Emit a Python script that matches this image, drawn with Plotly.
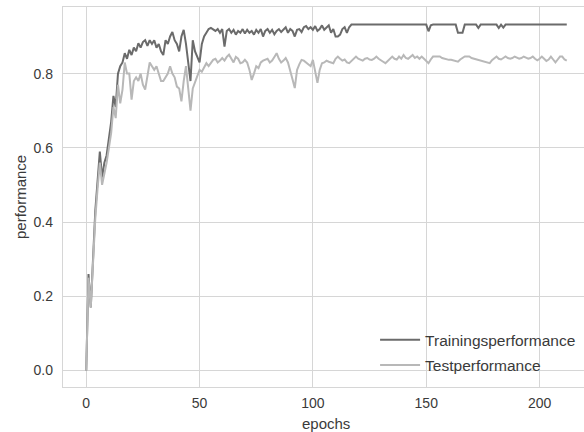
import plotly.graph_objects as go

epochs = list(range(213))

training = [
    0.0, 0.26, 0.17, 0.31, 0.43, 0.51, 0.59, 0.52, 0.56, 0.58,
    0.62, 0.67, 0.74, 0.71, 0.80, 0.82, 0.83, 0.855, 0.84, 0.864,
    0.85, 0.87, 0.86, 0.882, 0.87, 0.885, 0.89, 0.875, 0.89, 0.88,
    0.89, 0.87, 0.88, 0.86, 0.85, 0.89, 0.88, 0.90, 0.912, 0.89,
    0.88, 0.86, 0.90, 0.918, 0.88, 0.83, 0.78, 0.89, 0.86, 0.845,
    0.83, 0.88, 0.90, 0.91, 0.92, 0.923, 0.92, 0.915, 0.92, 0.91,
    0.92, 0.873, 0.915, 0.92, 0.91, 0.918, 0.905, 0.915, 0.91, 0.92,
    0.908, 0.918, 0.91, 0.915, 0.905, 0.918, 0.91, 0.92, 0.90, 0.915,
    0.92, 0.91, 0.918, 0.906, 0.915, 0.92, 0.912, 0.918, 0.925, 0.91,
    0.92, 0.915, 0.90, 0.918, 0.92, 0.912, 0.925, 0.928, 0.92, 0.925,
    0.918, 0.928, 0.915, 0.92, 0.93, 0.918, 0.925, 0.93, 0.91, 0.92,
    0.90, 0.90, 0.905, 0.92, 0.925, 0.91, 0.925, 0.932, 0.932, 0.932,
    0.932, 0.932, 0.932, 0.932, 0.932, 0.932, 0.932, 0.932, 0.932, 0.932,
    0.932, 0.932, 0.932, 0.932, 0.932, 0.932, 0.932, 0.932, 0.932, 0.932,
    0.932, 0.932, 0.932, 0.932, 0.932, 0.932, 0.932, 0.932, 0.932, 0.932,
    0.932, 0.914, 0.930, 0.932, 0.932, 0.932, 0.932, 0.932, 0.932, 0.932,
    0.932, 0.932, 0.932, 0.932, 0.910, 0.909, 0.910, 0.932, 0.932, 0.932,
    0.932, 0.932, 0.932, 0.923, 0.932, 0.932, 0.932, 0.932, 0.932, 0.932,
    0.932, 0.932, 0.923, 0.932, 0.924, 0.932, 0.932, 0.932, 0.932, 0.932,
    0.932, 0.932, 0.932, 0.932, 0.932, 0.932, 0.932, 0.932, 0.932, 0.932,
    0.932, 0.932, 0.932, 0.932, 0.932, 0.932, 0.932, 0.932, 0.932, 0.932,
    0.932, 0.932, 0.932,
]

test = [
    0.0, 0.25, 0.17, 0.29, 0.41, 0.49, 0.56, 0.50, 0.53, 0.56,
    0.60, 0.64, 0.71, 0.68, 0.77, 0.72, 0.757, 0.83, 0.80, 0.80,
    0.73, 0.78, 0.79, 0.78, 0.80, 0.77, 0.757, 0.80, 0.83, 0.82,
    0.81, 0.82, 0.80, 0.78, 0.78, 0.79, 0.80, 0.82, 0.80, 0.79,
    0.765, 0.76, 0.725, 0.78, 0.82, 0.76, 0.70, 0.76, 0.775, 0.79,
    0.81, 0.805, 0.815, 0.828, 0.82, 0.83, 0.837, 0.84, 0.83, 0.835,
    0.842, 0.835, 0.845, 0.851, 0.84, 0.83, 0.845, 0.84, 0.828, 0.83,
    0.837, 0.83, 0.81, 0.783, 0.80, 0.82, 0.815, 0.83, 0.835, 0.837,
    0.84, 0.83, 0.835, 0.845, 0.855, 0.84, 0.83, 0.835, 0.842, 0.83,
    0.81, 0.785, 0.761, 0.81, 0.825, 0.837, 0.835, 0.83, 0.825, 0.82,
    0.837, 0.80, 0.775, 0.81, 0.828, 0.83, 0.835, 0.832, 0.83, 0.828,
    0.84, 0.846, 0.84, 0.835, 0.838, 0.83, 0.828, 0.835, 0.84, 0.846,
    0.84, 0.838, 0.835, 0.84, 0.842, 0.838, 0.837, 0.84, 0.846, 0.84,
    0.837, 0.832, 0.828, 0.835, 0.84, 0.846, 0.84, 0.838, 0.846, 0.84,
    0.85, 0.842, 0.84, 0.846, 0.85, 0.842, 0.846, 0.84, 0.846, 0.84,
    0.835, 0.828, 0.838, 0.846, 0.846, 0.846, 0.846, 0.842, 0.84, 0.838,
    0.837, 0.837, 0.835, 0.832, 0.832, 0.838, 0.843, 0.846, 0.846, 0.846,
    0.842, 0.84, 0.838, 0.836, 0.835, 0.832, 0.83, 0.828, 0.828, 0.836,
    0.842, 0.846, 0.84, 0.838, 0.842, 0.846, 0.842, 0.84, 0.842, 0.846,
    0.843, 0.84, 0.842, 0.846, 0.843, 0.84, 0.842, 0.846, 0.84, 0.836,
    0.84, 0.846, 0.84, 0.834, 0.838, 0.846, 0.838, 0.83, 0.838, 0.846,
    0.846, 0.838, 0.835,
]

x_ticks = [0, 50, 100, 150, 200]
y_ticks = [0.0, 0.2, 0.4, 0.6, 0.8]
y_tick_labels = ["0.0", "0.2", "0.4", "0.6", "0.8"]

FONT = "Liberation Sans, Arial, sans-serif"
TXT = "#3a3a3a"
GRID = "#d6d6d6"

fig = go.Figure()
fig.add_trace(go.Scatter(x=epochs, y=training, mode="lines",
                         name="Trainingsperformance", legendgroup="a",
                         line=dict(color="#6b6b6b", width=2)))
fig.add_trace(go.Scatter(x=epochs, y=test, mode="lines",
                         name="Testperformance", legendgroup="b",
                         line=dict(color="#b8b8b8", width=2)))

fig.update_layout(
    width=584, height=432,
    margin=dict(l=63, r=0, t=7, b=45),
    paper_bgcolor="white", plot_bgcolor="white",
    font=dict(family=FONT, size=14, color=TXT),
    showlegend=True,
    legend=dict(x=0.599, xanchor="left", y=0.168, yanchor="top",
                bgcolor="rgba(0,0,0,0)", borderwidth=0,
                traceorder="grouped", tracegroupgap=2, itemwidth=40,
                font=dict(size=15.5, color=TXT)),
    xaxis=dict(range=[-10.25, 219.6], tickvals=x_ticks,
               showgrid=True, gridcolor=GRID, gridwidth=1,
               zeroline=False, showline=True, mirror=True,
               linecolor=GRID, linewidth=1.3,
               ticks="", ticklabelstandoff=3,
               tickfont=dict(size=14, color=TXT)),
    yaxis=dict(range=[-0.0447, 0.9795], tickvals=y_ticks, ticktext=y_tick_labels,
               showgrid=True, gridcolor=GRID, gridwidth=1,
               zeroline=False, showline=True, mirror=False,
               linecolor=GRID, linewidth=1.3,
               ticks="", ticklabelstandoff=6,
               tickfont=dict(size=14, color=TXT)),
    annotations=[
        dict(text="epochs", xref="paper", yref="paper", x=0.505, y=-0.097,
             xanchor="center", yanchor="middle", showarrow=False,
             font=dict(size=15, color=TXT)),
        dict(text="performance", xref="paper", yref="paper", x=-0.0825, y=0.5,
             xanchor="center", yanchor="middle", showarrow=False, textangle=-90,
             font=dict(size=15, color=TXT)),
    ],
)

fig.write_html("out.html")
